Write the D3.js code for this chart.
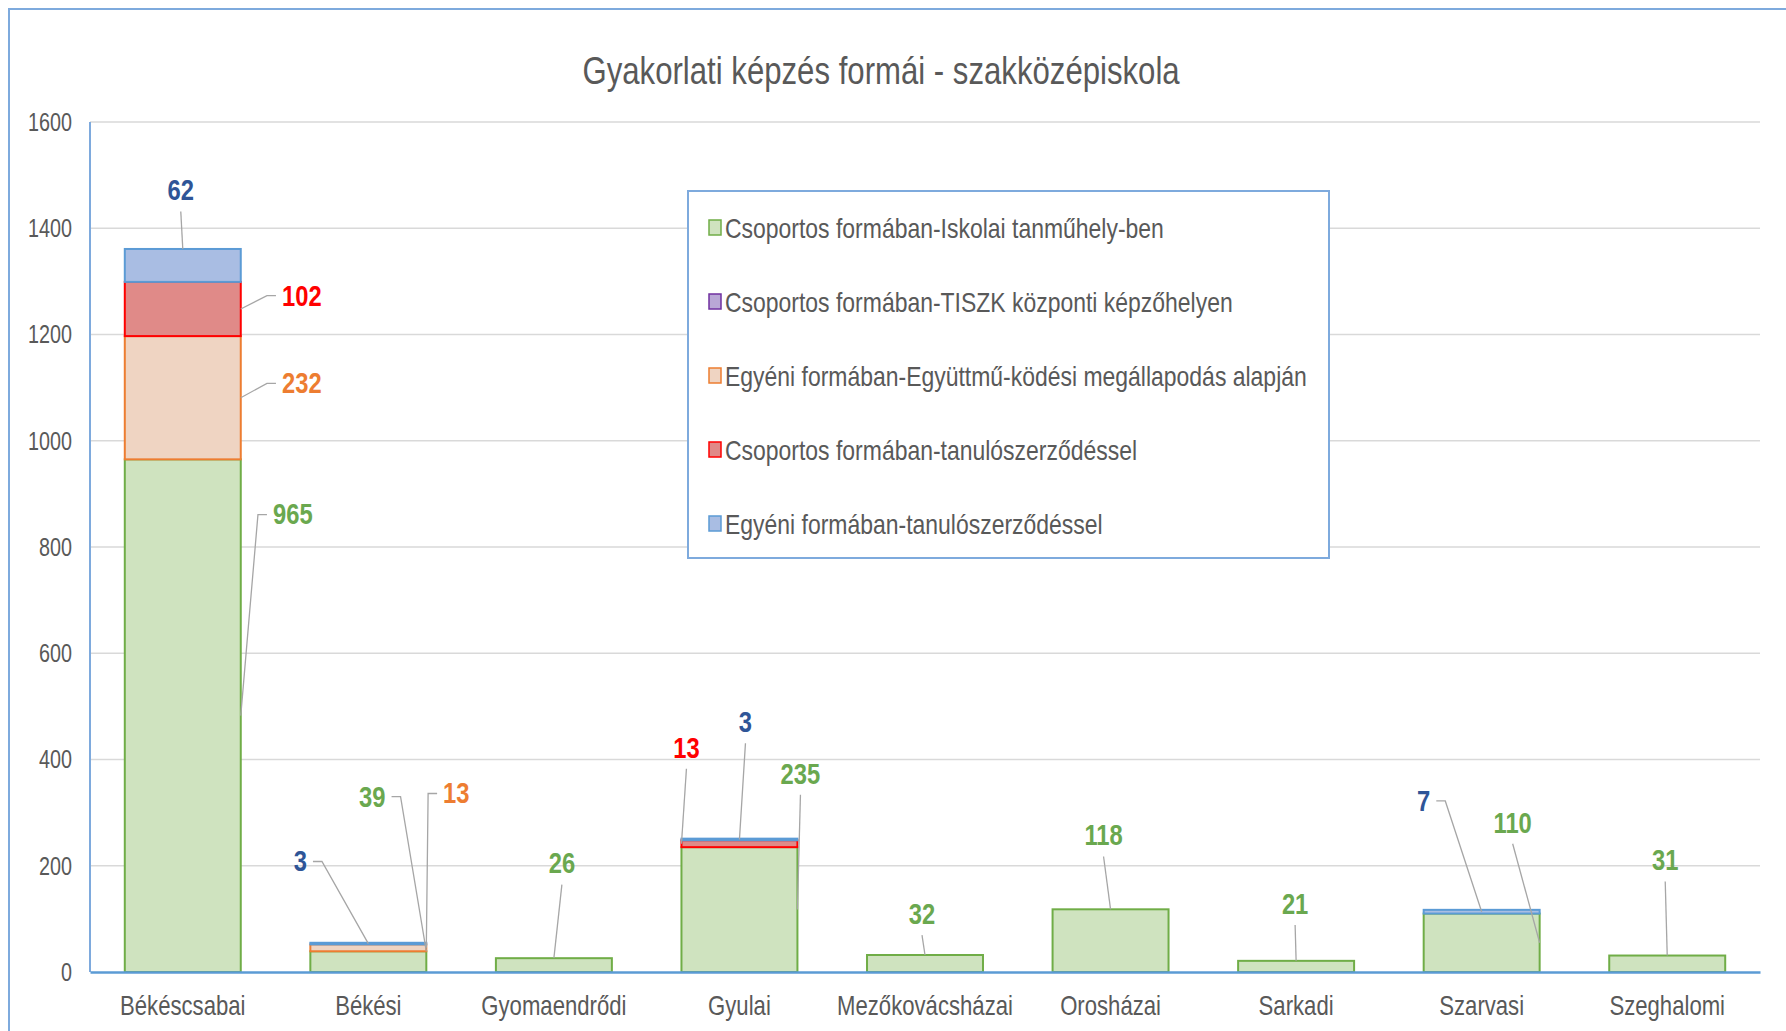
<!DOCTYPE html>
<html><head><meta charset="utf-8">
<script src="https://cdn.jsdelivr.net/npm/d3@7/dist/d3.min.js"></script>
<style>
body{margin:0;background:#fff}
svg{display:block}
svg text{font-family:'Liberation Sans',Arial,sans-serif;transform-box:fill-box;transform:scaleX(0.82)}
svg text.mid{transform-origin:center}
svg text.start{transform-origin:left center}
svg text.end{transform-origin:right center;transform:scaleX(0.76)}
</style>
</head><body>
<svg id="chart" width="1786" height="1031"></svg>
<script>
// ---------------- DATA ----------------
const chartTitle = "Gyakorlati képzés formái - szakközépiskola";
const categories = ["Békéscsabai","Békési","Gyomaendrődi","Gyulai","Mezőkovácsházai","Orosházai","Sarkadi","Szarvasi","Szeghalomi"];
const seriesNames = [
  "Csoportos formában-Iskolai tanműhely-ben",
  "Csoportos formában-TISZK központi képzőhelyen",
  "Egyéni formában-Együttmű-ködési megállapodás alapján",
  "Csoportos formában-tanulószerződéssel",
  "Egyéni formában-tanulószerződéssel"
];
const seriesKeys = ["iskolai","tiszk","egyutt","csopTanulo","egyeniTanulo"];
const iskolai      = [965, 39, 26, 235, 32, 118, 21, 110, 31];
const tiszk        = [0, 0, 0, 0, 0, 0, 0, 0, 0];
const egyutt       = [232, 13, 0, 0, 0, 0, 0, 0, 0];
const csopTanulo   = [102, 0, 0, 13, 0, 0, 0, 0, 0];
const egyeniTanulo = [62, 3, 0, 3, 0, 0, 0, 7, 0];
const yTicks = [0, 200, 400, 600, 800, 1000, 1200, 1400, 1600];

// ---------------- STYLE / LAYOUT ----------------
const fills   = ["#cfe3bf","#b9a7d6","#efd4c2","#e08a88","#a9bde3"];
const strokes = ["#70ad47","#7030a0","#ed7d31","#ff0000","#5b9bd5"];
const labelColors = ["#6aa84f","#7030a0","#ed7d31","#ff0000","#2f5597"];
const SX = 0.82; // horizontal condensing of text (narrow face look)

// label placement: category index, series index, px offset from band centre, label centre (data units),
// leader mode, anchor position on segment (ax: -1 left/0 centre/1 right, ay: 0 bottom..1 top)
const labelPlacement = [
  {c:0,s:4,dx:-2, v:1471,mode:"below",ax:0, ay:1},
  {c:0,s:3,dx:119,v:1273,mode:"left", ax:1, ay:0.5},
  {c:0,s:2,dx:119,v:1108,mode:"left", ax:1, ay:0.5},
  {c:0,s:0,dx:110,v:861, mode:"left", ax:1, ay:0.5},
  {c:1,s:4,dx:-68,v:208, mode:"right",ax:0, ay:0.5},
  {c:1,s:0,dx:4,  v:330, mode:"right",ax:1, ay:1},
  {c:1,s:2,dx:88, v:336, mode:"left", ax:1, ay:0.5},
  {c:2,s:0,dx:8,  v:204, mode:"below",ax:0, ay:1},
  {c:3,s:3,dx:-53,v:422, mode:"below",ax:-1,ay:0.5},
  {c:3,s:4,dx:6,  v:470, mode:"below",ax:0, ay:0.5},
  {c:3,s:0,dx:61, v:373, mode:"below",ax:1, ay:0.5},
  {c:4,s:0,dx:-3, v:109, mode:"below",ax:0, ay:1},
  {c:5,s:0,dx:-7, v:257, mode:"below",ax:0, ay:1},
  {c:6,s:0,dx:-1, v:128, mode:"below",ax:0, ay:1},
  {c:7,s:4,dx:-58,v:322, mode:"right",ax:0, ay:0.5},
  {c:7,s:0,dx:31, v:281, mode:"below",ax:1, ay:0.5},
  {c:8,s:0,dx:-2, v:210, mode:"below",ax:0, ay:1}
];

// ---------------- CHART ----------------
const svg = d3.select("#chart");
const plot = {left:90, right:1760, top:122, bottom:972};

const seriesData = [iskolai, tiszk, egyutt, csopTanulo, egyeniTanulo];
const rows = categories.map((c,i) => {
  const r = {cat:c};
  seriesKeys.forEach((k,j) => r[k] = seriesData[j][i]);
  return r;
});
const stacked = d3.stack().keys(seriesKeys)(rows);

const x = d3.scaleBand().domain(categories).range([plot.left, plot.right]).paddingInner(0.375).paddingOuter(0.1875);
const y = d3.scaleLinear().domain([0, 1600]).range([plot.bottom, plot.top]);

// outer frame
svg.append("rect").attr("x",9).attr("y",9).attr("width",1800).attr("height",1040)
  .attr("fill","#fff").attr("stroke","#7eaadd").attr("stroke-width",2);

// title
svg.append("text").attr("class","mid").attr("x",881).attr("y",71).attr("text-anchor","middle").attr("dominant-baseline","central")
  .attr("font-size",38).attr("fill","#595959").text(chartTitle);

// gridlines
svg.append("g").selectAll("line").data(yTicks.filter(t => t > 0)).join("line")
  .attr("x1",plot.left).attr("x2",plot.right).attr("y1",d=>y(d)).attr("y2",d=>y(d))
  .attr("stroke","#d9d9d9").attr("stroke-width",1.5);

// y axis labels
const yAxis = svg.append("g").attr("transform",`translate(${plot.left},0)`)
  .call(d3.axisLeft(y).tickValues(yTicks).tickSize(0).tickPadding(18).tickFormat(d3.format("d")));
yAxis.select(".domain").remove();
yAxis.attr("font-family",null);
yAxis.selectAll("text").attr("class","end").attr("font-size",26).attr("fill","#595959");

// bars
const barG = svg.append("g");
stacked.forEach((layer, si) => {
  barG.append("g").selectAll("rect").data(layer.filter(d => d[1]-d[0] > 0)).join("rect")
    .attr("x", d => x(d.data.cat)).attr("width", x.bandwidth())
    .attr("y", d => y(d[1])).attr("height", d => y(d[0]) - y(d[1]))
    .attr("fill", fills[si]).attr("stroke", strokes[si]).attr("stroke-width", 2);
});

// axis lines
svg.append("line").attr("x1",plot.left).attr("x2",plot.left).attr("y1",plot.top).attr("y2",plot.bottom)
  .attr("stroke","#7eaadd").attr("stroke-width",2);
const xAxis = svg.append("g").attr("transform",`translate(0,${plot.bottom})`)
  .call(d3.axisBottom(x).tickSize(0).tickPadding(24));
xAxis.attr("font-family",null);
xAxis.select(".domain").attr("stroke","#5b9bd5").attr("stroke-width",2.5);
xAxis.selectAll("text").attr("class","mid").attr("font-size",27).attr("fill","#595959");

// data labels with leader lines
const lblG = svg.append("g");
const leadG = svg.append("g");
labelPlacement.forEach(p => {
  const seg = stacked[p.s][p.c];
  const val = seriesData[p.s][p.c];
  const cx = x(categories[p.c]) + x.bandwidth()/2;
  const lx = cx + p.dx, ly = y(p.v);
  const t = lblG.append("text").attr("class","mid").attr("x",lx).attr("y",ly).attr("text-anchor","middle")
    .attr("dominant-baseline","central").attr("font-weight","bold")
    .attr("font-size",29).attr("fill",labelColors[p.s]).text(val);
  const w = t.node().getComputedTextLength() * SX;
  const axp = cx + p.ax * x.bandwidth()/2;
  const ayp = y(seg[0] + p.ay * (seg[1]-seg[0]));
  let pts;
  if (p.mode === "below") pts = [[lx, ly+21],[axp, ayp]];
  else if (p.mode === "left") pts = [[lx-w/2-6, ly],[lx-w/2-15, ly],[axp, ayp]];
  else pts = [[lx+w/2+6, ly],[lx+w/2+15, ly],[axp, ayp]];
  leadG.append("path").attr("d", d3.line()(pts)).attr("fill","none")
    .attr("stroke","#a6a6a6").attr("stroke-width",1.3);
});

// legend
const lg = svg.append("g");
lg.append("rect").attr("x",688).attr("y",191).attr("width",641).attr("height",367)
  .attr("fill","#fff").attr("stroke","#7eaadd").attr("stroke-width",2);
const legendY = d3.scalePoint().domain(seriesNames).range([228, 524]);
seriesNames.forEach((n,i) => {
  const yy = legendY(n);
  lg.append("rect").attr("x",709).attr("y",yy-8).attr("width",12).attr("height",15)
    .attr("fill",fills[i]).attr("stroke",strokes[i]).attr("stroke-width",1.5);
  lg.append("text").attr("class","start").attr("x",725).attr("y",yy).attr("dominant-baseline","central")
    .attr("font-size",28).attr("fill","#595959").text(n);
});
</script>
</body></html>
